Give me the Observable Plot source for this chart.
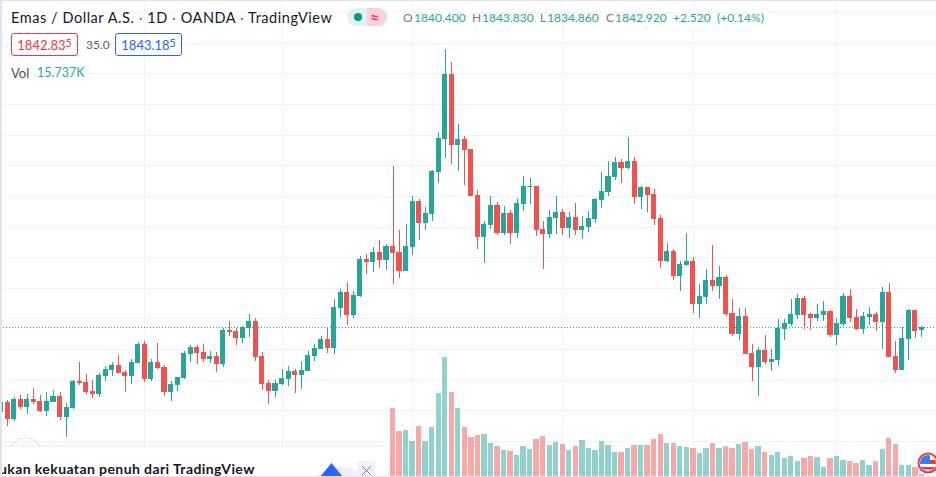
<!DOCTYPE html>
<html>
<head>
<meta charset="utf-8">
<script src="https://cdn.jsdelivr.net/npm/d3@7"></script>
<script src="https://cdn.jsdelivr.net/npm/@observablehq/plot@0.6"></script>
<style>
html,body{margin:0;padding:0;background:#fff;overflow:hidden}
#chart{position:relative;width:936px;height:477px;overflow:hidden;font-family:Lato,"Noto Sans",sans-serif;color:#131722}
#chart svg{position:absolute;left:0;top:0;display:block}
.t{position:absolute;white-space:nowrap;line-height:16px}
.box{position:absolute;top:33px;height:21px;width:65px;border:1px solid;border-radius:3px;text-align:center;font-size:13px;line-height:22px}
.box sup{font-size:10.5px;line-height:0;vertical-align:3px}
.g{color:#787b86}.up{color:#26a69a}.sep{color:#b2b5be}
.q{font-size:12px;letter-spacing:.02px;top:10px}
</style>
</head>
<body>
<div id="chart"></div>
<script>
const firstDay = -1;
const open = [
 1773.7,1781.9,1768.0,1784.3,1777.8,1784.3,1782.7,1774.6,1781.9,1786.8,
 1769.7,1777.0,1799.0,1798.2,1790.9,1788.4,1803.1,1808.0,1812.1,1806.4,
 1803.1,1813.7,1829.2,1800.7,1814.5,1810.4,1790.1,1795.8,1801.5,1821.1,
 1826.8,1822.7,1817.0,1819.4,1812.9,1840.6,1839.8,1834.1,1842.3,1848.0,
 1819.4,1797.4,1790.9,1796.6,1800.7,1807.2,1803.9,1807.2,1819.4,1825.1,
 1833.3,1825.9,1858.6,1871.6,1852.9,1868.4,1898.5,1896.1,1904.3,1897.7,
 1909.2,1904.3,1888.8,1908.3,1945.9,1927.9,1935.3,1969.5,1996.4,2049.5,
 1991.6,1996.4,1988.3,1950.8,1916.5,1926.3,1942.6,1919.8,1936.1,1919.8,
 1943.4,1957.3,1958.1,1923.0,1918.9,1932.0,1936.9,1923.9,1932.8,1922.2,
 1924.7,1931.2,1946.7,1953.2,1965.5,1977.7,1972.8,1978.5,1949.1,1957.3,
 1951.6,1932.0,1896.9,1905.1,1884.7,1893.7,1896.9,1861.8,1867.5,1881.4,
 1876.5,1883.8,1854.5,1837.3,1852.0,1821.8,1810.4,1824.3,1814.5,1816.1,
 1841.4,1845.5,1852.8,1866.7,1853.6,1850.4,1852.8,1856.1,1836.5,1845.5,
 1868.3,1851.2,1841.4,1851.2,1853.6,1847.1,1871.6,1819.4,1808.0,1833.2,
 1856.9,1840.4];
const close = [
 1781.9,1768.0,1784.3,1777.8,1784.3,1781.9,1774.6,1782.7,1786.8,1769.7,
 1777.8,1799.0,1797.4,1790.1,1788.4,1803.9,1808.8,1812.1,1805.6,1803.1,
 1814.5,1829.2,1800.7,1814.5,1809.6,1790.1,1796.6,1802.3,1821.9,1826.8,
 1821.9,1817.0,1819.4,1812.9,1840.6,1839.0,1834.1,1843.1,1848.0,1818.6,
 1796.6,1790.9,1797.4,1801.5,1807.2,1803.9,1808.0,1820.2,1825.9,1833.3,
 1825.9,1859.4,1871.6,1852.9,1869.2,1898.5,1896.1,1904.3,1897.7,1909.2,
 1903.4,1888.8,1909.2,1945.9,1927.9,1936.1,1970.3,1997.3,2049.5,1991.6,
 1996.4,1987.5,1950.0,1916.5,1927.1,1942.6,1919.8,1936.1,1919.8,1944.2,
 1958.1,1958.1,1922.2,1918.9,1932.8,1936.9,1923.9,1932.8,1922.2,1925.5,
 1932.0,1947.5,1954.0,1966.3,1977.7,1972.8,1978.5,1949.1,1957.3,1950.8,
 1931.2,1896.9,1905.1,1884.7,1894.5,1896.9,1861.8,1868.3,1881.4,1876.5,
 1883.8,1853.6,1837.3,1852.0,1821.0,1810.4,1824.3,1814.5,1816.9,1842.2,
 1846.3,1853.6,1866.7,1852.8,1850.4,1853.6,1856.1,1836.5,1846.3,1868.3,
 1850.4,1841.4,1852.0,1853.6,1847.1,1871.6,1818.6,1808.0,1834.1,1856.9,
 1839.8,1842.92];
const high = [
 1783.0,1783.5,1785.7,1787.6,1788.1,1793.0,1787.6,1790.1,1791.7,1789.8,
 1780.8,1799.8,1814.5,1804.7,1799.8,1805.6,1811.3,1814.5,1820.2,1808.0,
 1817.0,1830.6,1831.7,1817.0,1830.0,1812.1,1799.0,1802.3,1823.5,1828.4,
 1828.4,1829.2,1823.5,1822.7,1842.3,1848.0,1842.3,1843.9,1853.7,1850.1,
 1822.7,1799.8,1799.8,1808.5,1811.3,1808.8,1815.3,1823.5,1829.2,1835.7,
 1842.3,1865.9,1874.1,1879.8,1872.4,1901.0,1902.6,1908.3,1914.0,1910.8,
 1974.4,1922.2,1927.1,1950.0,1947.5,1941.0,1971.1,2002.2,2069.8,2059.3,
 2008.7,1998.9,1988.3,1954.8,1929.6,1950.0,1945.1,1941.8,1938.5,1948.3,
 1966.3,1964.6,1958.1,1929.6,1938.5,1950.0,1939.4,1936.9,1944.3,1933.7,
 1937.7,1948.3,1969.5,1978.5,1981.8,1980.1,1998.1,1981.8,1958.1,1957.3,
 1955.7,1934.5,1911.6,1906.7,1896.9,1919.8,1900.1,1878.1,1890.3,1909.9,
 1892.8,1885.5,1865.9,1858.5,1858.5,1829.2,1826.7,1836.5,1825.1,1849.6,
 1849.6,1865.9,1870.0,1868.3,1854.5,1861.8,1864.2,1856.9,1850.4,1870.8,
 1874.0,1857.7,1855.3,1859.3,1855.3,1875.7,1878.9,1831.6,1843.0,1857.7,
 1856.9,1843.83];
const low = [
 1772.0,1762.3,1766.4,1776.2,1772.1,1780.3,1773.7,1770.5,1781.9,1767.2,
 1753.3,1776.2,1795.8,1788.4,1785.2,1786.0,1799.0,1803.1,1805.6,1790.1,
 1796.6,1813.7,1798.2,1799.0,1808.8,1786.8,1782.7,1791.1,1800.7,1814.5,
 1812.9,1814.5,1813.7,1806.4,1810.4,1835.7,1828.4,1830.0,1834.9,1815.3,
 1791.7,1780.3,1786.0,1795.8,1795.0,1789.2,1792.5,1807.2,1815.3,1825.1,
 1821.9,1821.1,1851.2,1844.7,1850.4,1867.5,1886.3,1887.9,1891.2,1889.6,
 1878.2,1883.0,1888.8,1901.8,1914.0,1922.2,1929.5,1960.5,1981.0,1976.0,
 1970.3,1958.9,1950.0,1906.7,1895.3,1923.0,1918.1,1918.1,1910.8,1915.7,
 1937.7,1943.4,1917.3,1890.4,1915.7,1918.9,1918.2,1915.7,1918.2,1914.9,
 1920.6,1927.9,1940.2,1950.0,1963.0,1960.6,1972.0,1943.4,1939.4,1936.9,
 1926.3,1891.2,1896.1,1881.4,1872.5,1892.9,1854.5,1850.4,1861.8,1872.4,
 1865.9,1852.0,1835.7,1832.4,1821.0,1799.0,1786.8,1812.9,1807.1,1811.2,
 1832.4,1843.9,1849.6,1841.4,1840.6,1847.9,1847.9,1834.9,1828.4,1843.9,
 1847.1,1840.6,1837.3,1844.7,1839.8,1825.1,1818.6,1805.5,1808.0,1816.1,
 1834.1,1834.86];
const firstVolumeDay = 59;
const volume = [
 362.3,241.5,246.8,189.0,267.8,189.0,262.5,441.0,630.0,446.3,
 362.3,262.5,210.0,220.5,225.8,178.5,162.8,141.8,136.5,115.5,
 162.8,147.0,199.5,215.3,168.0,183.8,173.3,141.8,162.8,194.3,
 152.3,141.8,189.0,168.0,131.3,131.3,152.3,168.0,168.0,168.0,
 199.5,225.8,178.5,178.5,162.8,157.5,152.3,126.0,152.3,178.5,
 152.3,162.8,152.3,173.3,183.8,147.0,162.8,131.3,115.5,131.3,
 99.8,110.3,84.0,99.8,110.3,105.0,52.5,99.8,110.3,89.3,
 84.0,73.5,89.3,63.0,84.0,147.0,204.8,173.3,63.0,63.0,
 52.5,15.737];
const priceGrid = [1725,1750,1775,1800,1825,1850,1875,1900,1925,1950,1975,2000,2025,2050,2075,2100];
const monthDays = [21,42,62,85,105,127];
const lastClose = close[close.length-1];

const up = "#26a69a", down = "#ef5350", gridColor = "#f0f3fa";
const W = 936, H = 477;
const xScale = {domain:[-1.118,142.24], range:[0,W]};
const candles = open.map((o,k)=>({day:k+firstDay, open:o, close:close[k], high:high[k], low:low[k]}));
const volumes = volume.map((v,k)=>({day:k+firstVolumeDay, v, up:close[k+firstVolumeDay-firstDay]>=open[k+firstVolumeDay-firstDay]}));
const col = d=>d.close>=d.open?up:down;
const base = {width:W,height:H,marginTop:0,marginRight:0,marginBottom:0,marginLeft:0,axis:null,style:{background:"transparent"}};

const pricePlot = Plot.plot({...base,
  x:xScale,
  y:{domain:[2109.8,1720.7],range:[0,H]},
  marks:[
    Plot.ruleY(priceGrid,{stroke:gridColor,strokeWidth:1,shapeRendering:"crispEdges"}),
    Plot.ruleX(monthDays,{stroke:gridColor,strokeWidth:1,shapeRendering:"crispEdges"}),
    Plot.ruleY([lastClose],{stroke:up,strokeWidth:1,strokeDasharray:"1,2",shapeRendering:"crispEdges"}),
  ]});
const volumePlot = Plot.plot({...base,
  x:xScale,
  y:{domain:[0,2504.25],range:[H,0]},
  marks:[
    Plot.rect(volumes,{x1:d=>d.day-0.41,x2:d=>d.day+0.41,y1:0,y2:"v",fill:d=>d.up?up:down,fillOpacity:0.5,shapeRendering:"crispEdges"}),
  ]});
const candlePlot = Plot.plot({...base,
  x:xScale,
  y:{domain:[2109.8,1720.7],range:[0,H]},
  marks:[
    Plot.ruleX(candles,{x:"day",y1:"low",y2:"high",stroke:col,strokeWidth:1,shapeRendering:"crispEdges"}),
    Plot.rect(candles,{x1:d=>d.day-0.39,x2:d=>d.day+0.39,y1:"open",y2:"close",fill:col,shapeRendering:"crispEdges"}),
  ]});
const chart = document.getElementById("chart");
chart.append(pricePlot,volumePlot,candlePlot);

const html = `
<div style="position:absolute;left:9px;top:437px;width:31px;height:31px;border:1px solid #e0e3eb;border-radius:50%"></div>
<div style="position:absolute;left:-10px;top:447px;width:398px;height:40px;background:#fff;border-radius:6px;box-shadow:0 0 6px rgba(42,46,57,.12)"></div>
<div style="position:absolute;left:307px;top:466px;width:66px;height:66px;border-radius:50%;background:#edf1fc"></div>
<svg width="936" height="477" style="position:absolute;left:0;top:0;pointer-events:none">
 <path d="M331.5 463 L343 477 L320 477 Z" fill="#2962ff"/>
 <rect x="357" y="461" width="18" height="17" rx="2" fill="#f0f3fa"/>
 <path d="M362 466 L371 475 M371 466 L362 475" stroke="#787b86" stroke-width="1"/>
 <defs><clipPath id="fc"><circle cx="928" cy="463" r="8"/></clipPath></defs>
 <circle cx="928" cy="463" r="10.5" fill="#f23645"/>
 <circle cx="928" cy="463" r="8.5" fill="#fff"/>
 <g clip-path="url(#fc)">
  <rect x="930" y="460" width="10" height="4" fill="#f23645"/>
  <rect x="919" y="467" width="18" height="2.5" fill="#f23645"/>
  <rect x="919" y="454" width="11" height="10" fill="#2f80ed"/>
 </g>
</svg>
<div class="t" style="left:-1px;top:461px;font-size:14px;font-weight:700;letter-spacing:.41px;color:#131722">ukan kekuatan penuh dari TradingView</div>
<div style="position:absolute;left:0;top:0;width:1.5px;height:477px;background:#e0e3eb"></div>
<div style="position:absolute;left:0;top:0;width:936px;height:1px;background:#e0e3eb"></div>
<div style="position:absolute;left:0;top:475.5px;width:936px;height:1.5px;background:#e0e3eb"></div>
<div class="t" style="left:11px;top:10px;font-size:14.5px;color:#131722;letter-spacing:.55px">Emas / Dollar A.S. <span class="g">·</span> 1D <span class="g">·</span> OANDA <span class="g">·</span> TradingView</div>
<div style="position:absolute;left:347px;top:8px;width:20px;height:18px;background:#e0f3f0;border-radius:9px 0 0 9px"></div>
<div style="position:absolute;left:367px;top:8px;width:20px;height:18px;background:#fbd0de;border-radius:0 9px 9px 0"></div>
<div style="position:absolute;left:354px;top:13px;width:8px;height:8px;background:#089981;border-radius:50%"></div>
<div class="t" style="left:370px;top:9px;font-size:16px;font-weight:700;color:#f23645">≈</div>
<div class="t q g" style="left:403px">O</div><div class="t q up" style="left:414px">1840.400</div>
<div class="t q g" style="left:472px">H</div><div class="t q up" style="left:482px">1843.830</div>
<div class="t q g" style="left:540px">L</div><div class="t q up" style="left:547px">1834.860</div>
<div class="t q g" style="left:606px">C</div><div class="t q up" style="left:615px">1842.920</div>
<div class="t q up" style="left:673px">+2.520</div><div class="t q up" style="left:717px">(+0.14%)</div>
<div class="box" style="left:11px;border-color:#f23645;color:#f23645">1842.83<sup>5</sup></div>
<div class="t" style="left:86px;top:37px;font-size:12px;color:#5d606b">35.0</div>
<div class="box" style="left:115px;border-color:#2962ff;color:#2962ff">1843.18<sup>5</sup></div>
<div class="t" style="left:11px;top:65px;font-size:13px;color:#4a4e59">Vol</div>
<div class="t up" style="left:37px;top:65px;font-size:12.5px">15.737K</div>
`;
chart.insertAdjacentHTML("beforeend",html);
</script>
</body>
</html>
